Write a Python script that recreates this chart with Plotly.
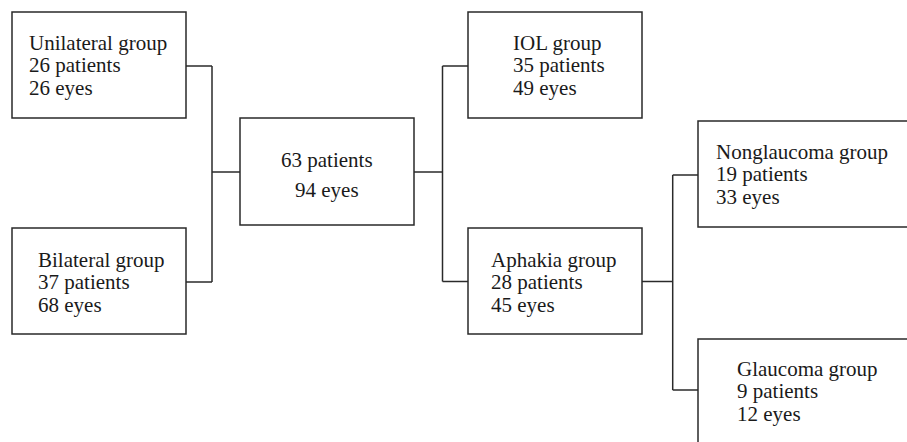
import plotly.graph_objects as go

# ---- content ----
node_ids = ["uni", "bil", "all", "iol", "aph", "nong", "glau"]
node_titles = ["Unilateral group", "Bilateral group", "", "IOL group", "Aphakia group",
               "Nonglaucoma group", "Glaucoma group"]
node_patients = [26, 37, 63, 35, 28, 19, 9]
node_eyes = [26, 68, 94, 49, 45, 33, 12]
edges = [("all", "uni"), ("all", "bil"), ("all", "iol"), ("all", "aph"),
         ("aph", "nong"), ("aph", "glau")]

# ---- layout geometry (pixel space) ----
boxes = {
    "uni": (12, 186, 12, 118),
    "bil": (12, 186, 228, 334),
    "all": (240, 414, 118, 225),
    "iol": (468, 642, 12, 118),
    "aph": (468, 642, 228, 334),
    "nong": (698, 930, 121, 227),
    "glau": (698, 930, 339, 470),
}
text_left = {"uni": 28, "bil": 37, "iol": 512, "aph": 490, "nong": 715, "glau": 736}
baselines = {
    "uni": [50, 72.7, 95],
    "bil": [266.7, 289, 310.7],
    "all": [166.7, 197.3],
    "iol": [52.3, 72.7, 94.3],
    "aph": [265.7, 289, 310],
    "nong": [160, 181.7, 202.7],
    "glau": [375, 398.3, 420],
}
conn_y = {"uni": 66, "bil": 282, "iol": 66, "aph": 281.5, "nong": 175, "glau": 390}
src_y = {"all": 172, "aph": 281.5}
bus_x = {("all", "left"): 212, ("all", "right"): 442.5, ("aph", "right"): 672.7}

W, H = 907, 442
FONT = "Liberation Serif, Times New Roman, serif"
FS = 21            # glyph size
LINE_FS = 17.3     # base size that sets the 1.3em line pitch (~22.5px)
LINE = "#2a2a2a"
TXT = "#1a1a1a"

fig = go.Figure()
shapes = []
annotations = []

for nid in node_ids:
    x0, x1, y0, y1 = boxes[nid]
    shapes.append(dict(type="rect", x0=x0, x1=x1, y0=y0, y1=y1, xref="x", yref="y",
                       line=dict(color=LINE, width=1.5), fillcolor="rgba(0,0,0,0)"))

for i, nid in enumerate(node_ids):
    if nid == "all":
        x0, x1, _, _ = boxes[nid]
        lines = [f"{node_patients[i]} patients", f"{node_eyes[i]} eyes"]
        for ln, by in zip(lines, baselines[nid]):
            annotations.append(dict(x=(x0 + x1) / 2, y=by - 7, text=ln, showarrow=False,
                                    xanchor="center", yanchor="middle", xref="x", yref="y",
                                    font=dict(family=FONT, size=FS, color=TXT)))
    else:
        lines = [node_titles[i], f"{node_patients[i]} patients", f"{node_eyes[i]} eyes"]
        text = "<br>".join(f"<span style='font-size:{FS}px'>{ln}</span>" for ln in lines)
        annotations.append(dict(x=text_left[nid], y=baselines[nid][1] - 7, text=text,
                                showarrow=False, align="left",
                                xanchor="left", yanchor="middle", xref="x", yref="y",
                                xshift=-1,
                                font=dict(family=FONT, size=LINE_FS, color=TXT)))

def seg(xa, ya, xb, yb):
    shapes.append(dict(type="line", x0=xa, y0=ya, x1=xb, y1=yb, xref="x", yref="y",
                       line=dict(color=LINE, width=1.5)))

left_children = [c for p, c in edges if p == "all" and boxes[c][1] < boxes["all"][0]]
right_children = {p: [c for pp, c in edges if pp == p and boxes[c][0] > boxes[p][1]]
                  for p in ["all", "aph"]}

bx = bus_x[("all", "left")]
seg(bx, src_y["all"], boxes["all"][0], src_y["all"])
ys = [conn_y[c] for c in left_children]
seg(bx, min(ys), bx, max(ys))
for c in left_children:
    seg(boxes[c][1], conn_y[c], bx, conn_y[c])

for p in ["all", "aph"]:
    bx = bus_x[(p, "right")]
    seg(boxes[p][1], src_y[p], bx, src_y[p])
    ys = [conn_y[c] for c in right_children[p]]
    seg(bx, min(ys), bx, max(ys))
    for c in right_children[p]:
        seg(bx, conn_y[c], boxes[c][0], conn_y[c])

fig.update_layout(
    width=W, height=H,
    margin=dict(l=0, r=0, t=0, b=0),
    paper_bgcolor="white", plot_bgcolor="white",
    xaxis=dict(range=[0, W], visible=False, fixedrange=True),
    yaxis=dict(range=[H, 0], visible=False, fixedrange=True),
    shapes=shapes, annotations=annotations, showlegend=False,
)
fig.write_html("out.html", config={"displayModeBar": False},
               post_script="document.body.style.margin='0';document.body.style.overflow='hidden';")
